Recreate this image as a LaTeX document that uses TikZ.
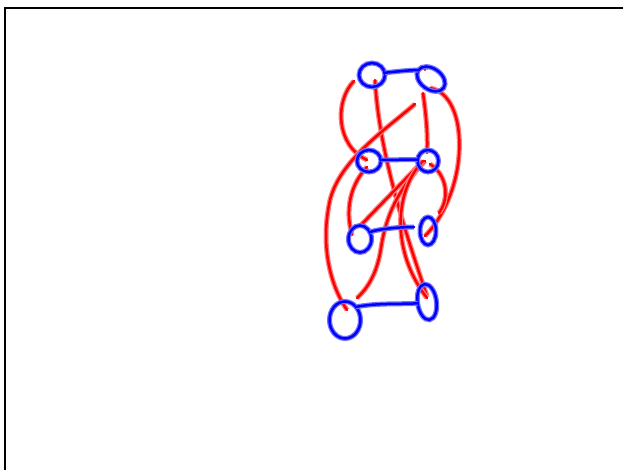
\documentclass[tikz,border=0pt]{standalone}
\usetikzlibrary{shapes.geometric}
\begin{document}
\begin{tikzpicture}[x=1pt,y=-1pt,
  loopnode/.style={ellipse, draw=blue, line width=2.5pt, inner sep=0pt, outer sep=0pt,
    preaction={draw=blue!55, line width=5pt}},
  blueline/.style={draw=blue, line width=2.5pt, line cap=round,
    preaction={draw=blue!55, line width=5pt}},
  redline/.style={draw=red, line width=2.5pt, line cap=round,
    preaction={draw=red!50, line width=5pt}},
  framestyle/.style={draw=black, line width=2pt}
]
\useasboundingbox (0,0) rectangle (623,470);
\draw[framestyle] (5,472) -- (5,8.5) -- (625,8.5);

% red strokes (drawn first)
\draw[redline] (354,81) .. controls (335,100) and (335,145) .. (367,160);
\draw[redline] (375,80) .. controls (379,155) and (408,240) .. (427,296);
\draw[redline] (415,104) .. controls (385,130) and (340,160) .. (330,200)
                .. controls (320,245) and (330,285) .. (347,310);
\draw[redline] (423,93) .. controls (426,115) and (428,135) .. (427,153);
\draw[redline] (430,88) .. controls (470,95) and (470,190) .. (425,236);
\draw[redline] (422,162) -- (360,226);
\draw[redline] (425,161) .. controls (398,190) and (386,215) .. (381,248)
                .. controls (377,275) and (366,290) .. (357,298);
\draw[redline] (423,161) .. controls (395,190) and (390,250) .. (427,298);
\draw[redline] (430,164) .. controls (447,175) and (450,198) .. (439,213);
\draw[redline] (367,167) .. controls (350,185) and (345,210) .. (352,235);
\draw[redline] (425,66) -- (425,70);

% blue loops
\node[loopnode, minimum width=26pt, minimum height=24pt] (A) at (372,75) {};
\node[loopnode, minimum width=31pt, minimum height=21pt, rotate=-35] (B) at (431,79) {};
\node[loopnode, minimum width=24pt, minimum height=22pt] (C) at (369,161) {};
\node[loopnode, minimum width=21pt, minimum height=22pt] (D) at (428,161) {};
\node[loopnode, minimum width=23pt, minimum height=27pt] (E) at (360,239) {};
\node[loopnode, minimum width=16pt, minimum height=28pt] (F) at (428,231) {};
\node[loopnode, minimum width=31pt, minimum height=37pt] (G) at (345,320) {};
\node[loopnode, minimum width=19pt, minimum height=36pt, rotate=8] (H) at (427,302) {};

% blue connectors
\draw[blueline] (A.10) .. controls +(10pt,1pt) and +(-10pt,0pt) .. (B.west);
\draw[blueline] (C.5) -- (D.172);
\draw[blueline] (E.35) .. controls +(8pt,3pt) and +(-15pt,0pt) .. ([xshift=-6pt,yshift=4pt]F.west);
\draw[blueline] (G.50) .. controls +(20pt,4pt) and +(-20pt,-1pt) .. (H.west);
\end{tikzpicture}
\end{document}
